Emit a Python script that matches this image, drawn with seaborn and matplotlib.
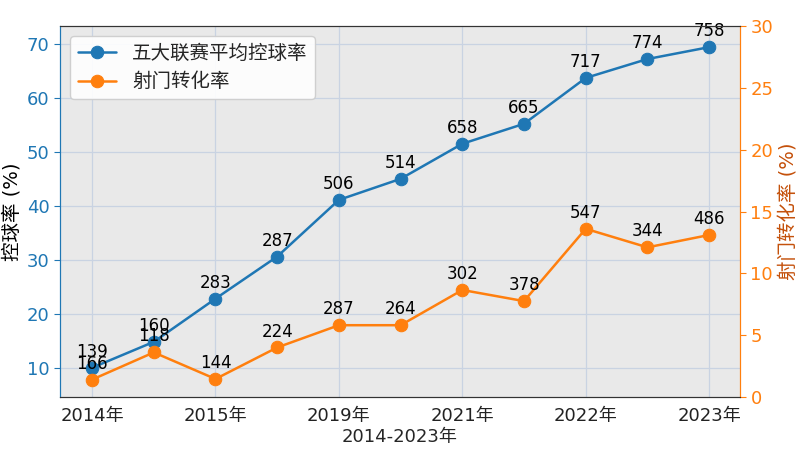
import matplotlib
matplotlib.use("Agg")
import matplotlib.pyplot as plt
import numpy as np
import pandas as pd
import seaborn as sns

sns.set_style("white")
plt.rcParams['font.family'] = ['DejaVu Sans', 'Noto Sans CJK SC']

# data
idx = list(range(11))
possession = [10.0, 14.8, 22.8, 30.6, 41.1, 45.0, 51.5, 55.2, 63.7, 67.2, 69.4]
conversion = [1.4, 3.6, 1.45, 4.0, 5.8, 5.8, 8.65, 7.75, 13.6, 12.1, 13.1]
poss_labels = ['139', '160', '283', '287', '506', '514', '658', '665', '717', '774', '758']
conv_labels = ['166', '118', '144', '224', '287', '264', '302', '378', '547', '344', '486']
tick_pos = [0, 2, 4, 6, 8, 10]
tick_labels = ['2014年', '2015年', '2019年', '2021年', '2022年', '2023年']

blue = '#1f77b4'
orange = '#ff7f0e'

df = pd.DataFrame({'idx': idx, 'possession': possession, 'conversion': conversion})

fig = plt.figure(figsize=(8, 4.5), dpi=100)
ax = fig.add_axes([0.075, 0.118, 0.85, 0.824])
ax.set_facecolor('#e9e9e9')
ax2 = ax.twinx()

sns.lineplot(data=df, x='idx', y='possession', ax=ax, color=blue, marker='o',
             markersize=9, markeredgecolor=blue, linewidth=1.8, label='五大联赛平均控球率', legend=False)
sns.lineplot(data=df, x='idx', y='conversion', ax=ax2, color=orange, marker='o',
             markersize=9, markeredgecolor=orange, linewidth=1.8, label='射门转化率', legend=False)

for x, y, t in zip(idx, possession, poss_labels):
    ax.annotate(t, (x, y), textcoords='offset points', xytext=(0, 5),
                ha='center', va='bottom', fontsize=12, color='black')
for x, y, t in zip(idx, conversion, conv_labels):
    ax2.annotate(t, (x, y), textcoords='offset points', xytext=(0, 5),
                 ha='center', va='bottom', fontsize=12, color='black')

ax.set_xlim(-0.52, 10.5)
ax.set_ylim(4.6, 73.3)
ax2.set_ylim(0, 30)
ax.set_xticks(tick_pos)
ax.set_xticklabels(tick_labels, fontsize=13)
ax.set_yticks([10, 20, 30, 40, 50, 60, 70])
ax.tick_params(axis='y', colors=blue, labelsize=13, length=4)
ax.tick_params(axis='x', labelsize=13, length=4, colors='#222222')
ax2.tick_params(axis='y', colors=orange, labelsize=13, length=4)

ax.grid(True, color='#c9d3e2', linewidth=0.9)
ax2.grid(False)

ax.set_xlabel('2014-2023年', fontsize=13, labelpad=2)
ax.set_ylabel('控球率 (%)', fontsize=14, color='black', labelpad=4)
ax2.set_ylabel('射门转化率 (%)', fontsize=14, color='#c4500a', labelpad=4)

for a in (ax, ax2):
    a.spines['top'].set_color('#333333')
    a.spines['bottom'].set_color('#333333')
    a.spines['left'].set_color(blue)
    a.spines['right'].set_color(orange)

h1, l1 = ax.get_legend_handles_labels()
h2, l2 = ax2.get_legend_handles_labels()
ax2.legend(h1 + h2, l1 + l2, loc='upper left', fontsize=14, frameon=True,
           facecolor='white', framealpha=0.9)

fig.savefig('out.png', dpi=100)
